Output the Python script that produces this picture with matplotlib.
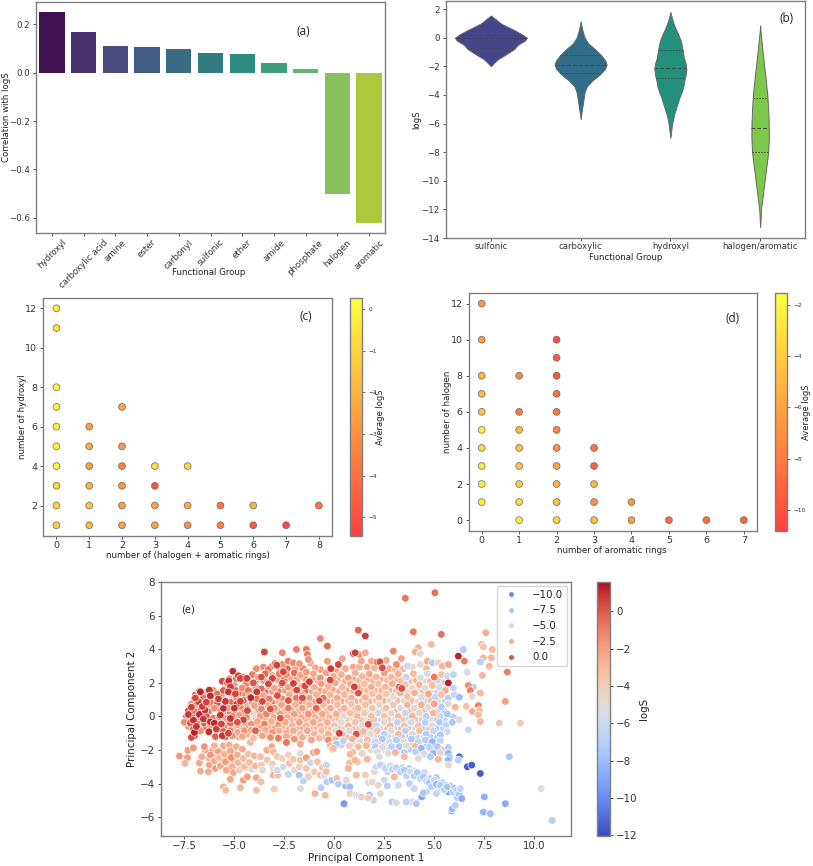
import colorsys

import matplotlib
matplotlib.use('Agg')
import matplotlib.pyplot as plt
import numpy as np
from matplotlib import cm
from matplotlib.colors import Normalize, to_rgb
from matplotlib.lines import Line2D

W, H = 813, 866

# (a)
groups = ['hydroxyl', 'carboxylic acid', 'amine', 'ester', 'carbonyl', 'sulfonic',
          'ether', 'amide', 'phosphate', 'halogen', 'aromatic']
corr = [0.25, 0.17, 0.11, 0.108, 0.098, 0.08, 0.076, 0.038, 0.015, -0.503, -0.62]

# (b) outline of each violin: logS level, half width
violin_names = ['sulfonic', 'carboxylic', 'hydroxyl', 'halogen/aromatic']
violin_y = [
    [1.55, 1.4, 1.2, 1.0, 0.8, 0.5, 0.25, 0.0, -0.2, -0.5, -0.8, -1.2, -1.5, -1.8, -2.0],
    [1.15, 0.8, 0.4, 0.0, -0.4, -0.8, -1.2, -1.6, -1.9, -2.2, -2.6, -3.0, -3.4, -3.8, -4.4, -5.0, -5.7],
    [1.8, 1.4, 1.0, 0.6, 0.2, -0.2, -0.6, -1.0, -1.4, -1.8, -2.2, -2.6, -3.0, -3.4, -3.8, -4.2, -4.6, -5.0, -5.4, -6.0, -7.0],
    [0.85, 0.4, 0.0, -1, -2, -3, -4, -5, -6, -7, -8, -9, -10, -11, -12, -13.25],
]
violin_w = [
    [0.0, 0.03, 0.07, 0.11, 0.17, 0.27, 0.34, 0.40, 0.38, 0.30, 0.26, 0.16, 0.08, 0.03, 0.0],
    [0.0, 0.01, 0.025, 0.045, 0.085, 0.16, 0.225, 0.275, 0.29, 0.27, 0.21, 0.13, 0.07, 0.045, 0.03, 0.015, 0.0],
    [0.0, 0.015, 0.035, 0.06, 0.09, 0.115, 0.13, 0.14, 0.15, 0.17, 0.178, 0.17, 0.155, 0.145, 0.125, 0.10, 0.08, 0.06, 0.04, 0.02, 0.0],
    [0.0, 0.005, 0.012, 0.028, 0.046, 0.064, 0.08, 0.09, 0.096, 0.097, 0.09, 0.07, 0.05, 0.03, 0.01, 0.0],
]
violin_quart = [[0.17, 0.0, -0.75], [-1.2, -1.9, -2.45], [-0.85, -2.15, -2.8], [-4.2, -6.3, -8.0]]
violin_colors = ['#47458a', '#2f6d88', '#23917a', '#7cc84a']

# (c) halogen + aromatic, hydroxyl, average logS
c_x = [0, 0, 0, 0, 0, 0, 0, 0, 0, 0, 1, 1, 1, 1, 1, 1, 2, 2, 2, 2, 2, 2, 3, 3, 3, 3, 4, 4, 4, 5, 5, 6, 6, 7, 8]
c_y = [12, 11, 8, 7, 6, 5, 4, 3, 2, 1, 6, 5, 4, 3, 2, 1, 7, 5, 4, 3, 2, 1, 4, 3, 2, 1, 4, 2, 1, 2, 1, 2, 1, 1, 2]
c_s = [-0.4, -0.7, 0.1, -0.2, -0.2, -0.1, 0.0, -1.0, -1.1, -1.2, -2.6, -2.2, -2.6, -2.1, -1.5, -1.7,
       -2.5, -2.8, -3.5, -2.9, -2.6, -2.6, -0.8, -4.8, -2.5, -2.5, -1.0, -2.2, -3.0, -3.9, -3.5,
       -2.0, -4.6, -5.2, -3.9]

# (d) aromatic rings, halogen, average logS
d_x = [0, 0, 0, 0, 0, 0, 0, 0, 0, 0, 1, 1, 1, 1, 1, 1, 1, 1, 2, 2, 2, 2, 2, 2, 2, 2, 2, 2, 2, 3, 3, 3, 3, 3, 4, 4, 5, 6, 7]
d_y = [12, 10, 8, 7, 6, 5, 4, 3, 2, 1, 8, 6, 5, 4, 3, 2, 1, 0, 10, 9, 8, 7, 6, 5, 4, 3, 2, 1, 0, 4, 3, 2, 1, 0, 1, 0, 0, 0, 0]
d_s = [-6.7, -6.3, -5.2, -5.0, -4.5, -2.2, -3.5, -2.8, -2.5, -2.5, -7.0, -8.2, -5.0, -4.5, -4.4, -4.0,
       -3.5, -2.2, -10.2, -9.5, -9.8, -8.5, -8.0, -7.5, -7.0, -6.0, -5.2, -4.5, -3.5, -8.5, -9.3,
       -5.0, -7.0, -4.7, -6.5, -6.3, -8.7, -8.7, -9.0]

# (e) PCA points as (PC1, PC2, logS)
pca_main = [
    (-5.05, 2.7, 0.3), (-3.9, 2.85, -1.5), (-3.3, 2.8, -0.9), (-2.95, 3.15, -0.3), (-2.6, 3.1, -1.6), (-2.3, 3.3, -0.9),
    (-2.05, 3.2, -1.3), (-1.75, 3.15, -1.8), (-1.2, 3.2, -2.2), (-0.95, 2.9, -2.3), (-0.35, 3.3, -1.9), (-0.2, 2.85, 0.0),
    (0.2, 3.05, -0.3), (0.4, 3.45, -2.3), (0.95, 3.75, 0.2), (1.25, 3.7, -1.5), (1.55, 3.8, -2.4), (1.35, 3.3, -2.2),
    (1.85, 3.3, -2.4), (2.15, 3.25, -0.7), (2.6, 3.35, -2.5), (2.95, 3.9, -1.2), (3.35, 3.45, -2.2), (3.1, 3.1, -1.5),
    (3.65, 3.0, -6.0), (4.3, 3.1, -5.0), (4.65, 3.3, -2.5), (4.9, 3.2, -7.0), (5.2, 3.2, -4.5), (5.4, 3.0, -2.8), (5.7, 3.1, -2.3),

    (-6.75, 1.5, 0.4), (-6.3, 1.55, 0.1), (-5.6, 2.1, 0.4), (-5.35, 2.0, -0.5), (-5.0, 1.85, -1.8), (-4.6, 2.35, 0.0),
    (-4.25, 2.2, -1.5), (-4.1, 2.5, -1.0), (-3.8, 2.35, -2.0), (-3.45, 2.55, -0.4), (-3.1, 2.45, -2.2), (-2.75, 2.55, -0.8),
    (-2.4, 2.5, -1.3), (-2.0, 2.6, -0.5), (-1.7, 2.45, -2.3), (-1.4, 2.65, -1.8), (-1.05, 2.55, -2.4), (-0.7, 2.3, -1.5),
    (-0.4, 2.6, -2.1), (-0.05, 2.4, -2.5), (0.35, 2.5, -2.6), (0.7, 2.3, -2.0), (1.05, 2.6, -2.7), (1.4, 2.4, -3.0),
    (1.75, 2.55, -2.5), (2.1, 2.35, -2.8), (2.5, 2.6, -1.9), (2.85, 2.35, -3.0), (3.2, 2.55, -2.7), (3.6, 2.35, -6.3),
    (3.95, 2.55, -3.2), (4.3, 2.3, -5.2), (4.65, 2.55, -5.5), (5.0, 2.35, -0.9), (5.35, 2.5, -3.5), (5.65, 2.4, -6.0), (5.95, 2.5, -6.5),

    (-7.0, 1.05, -0.1), (-6.55, 1.1, -0.8), (-6.15, 1.2, -1.8), (-5.85, 1.35, -0.7), (-5.55, 1.55, -0.2), (-5.25, 1.4, -0.9),
    (-4.95, 1.55, -0.1), (-4.6, 1.7, -1.3), (-4.3, 1.55, -0.7), (-3.95, 1.8, -1.9), (-3.65, 1.65, -0.4), (-3.3, 1.85, -1.4),
    (-3.0, 1.7, -2.2), (-2.65, 1.9, -1.1), (-2.3, 1.75, -2.0), (-2.0, 2.0, -0.2), (-1.65, 1.8, -2.4), (-1.3, 1.95, -1.6),
    (-1.0, 1.75, -2.6), (-0.65, 1.95, -2.0), (-0.3, 1.8, -2.7), (0.05, 2.0, -2.4), (0.4, 1.75, -2.9), (0.8, 1.95, -2.6),
    (1.15, 1.75, -2.3), (1.5, 1.95, -3.1), (1.85, 1.75, -2.6), (2.2, 1.95, -3.3), (2.55, 1.75, -3.0), (2.9, 1.95, -2.5),
    (3.25, 1.75, 0.0), (3.55, 1.9, -3.4), (3.9, 1.7, -4.5), (4.25, 1.9, -3.0), (4.55, 1.7, -5.0), (4.9, 1.85, -3.2),
    (5.25, 1.75, -5.5), (5.55, 1.55, -2.5), (5.95, 1.7, -6.5),

    (-7.15, 0.75, -1.7), (-6.85, 0.8, 0.1), (-6.5, 0.7, -0.4), (-6.2, 0.85, -0.9), (-5.85, 0.8, -0.1), (-5.55, 1.0, -1.7),
    (-5.2, 0.85, -0.4), (-4.9, 1.1, -1.3), (-4.55, 0.95, -0.1), (-4.25, 1.2, -1.8), (-3.9, 1.05, -0.7), (-3.55, 1.25, -2.1),
    (-3.25, 1.05, -1.0), (-2.9, 1.2, -2.3), (-2.6, 1.05, -1.5), (-2.25, 1.3, -2.4), (-1.9, 1.1, -0.8), (-1.6, 1.3, -2.5),
    (-1.25, 1.1, -2.0), (-0.9, 1.3, -2.6), (-0.55, 1.1, -0.7), (-0.2, 1.3, -2.8), (0.15, 1.1, -2.4), (0.5, 1.3, -3.0),
    (0.85, 1.1, -2.6), (1.2, 1.4, 0.2), (1.55, 1.15, -2.8), (1.9, 1.35, -3.4), (2.25, 1.15, -2.9), (2.6, 1.35, -3.6),
    (2.95, 1.2, -5.0), (3.3, 1.4, -2.7), (3.65, 1.2, -3.4), (4.0, 1.4, -2.6), (4.35, 1.15, -5.0), (4.7, 1.35, -2.3),
    (5.05, 1.15, -6.5), (5.35, 1.3, -3.5), (5.7, 1.1, -7.0), (6.0, 1.3, -6.3),

    (-7.3, 0.35, 0.2), (-7.0, 0.3, -0.8), (-6.65, 0.4, 0.2), (-6.3, 0.3, -0.5), (-6.0, 0.5, -1.5), (-5.65, 0.35, -0.3),
    (-5.3, 0.5, -1.7), (-5.0, 0.4, 0.0), (-4.7, 0.6, -1.4), (-4.35, 0.45, -0.6), (-4.0, 0.65, -2.1), (-3.65, 0.45, -1.2),
    (-3.3, 0.65, -2.4), (-3.0, 0.5, -1.6), (-2.65, 0.7, -2.3), (-2.3, 0.5, -0.9), (-1.95, 0.7, -2.6), (-1.6, 0.5, -2.0),
    (-1.25, 0.7, -2.8), (-0.9, 0.5, -0.3), (-0.55, 0.7, -2.9), (-0.2, 0.5, -2.5), (0.15, 0.7, -3.1), (0.5, 0.5, -2.7),
    (0.85, 0.75, -3.4), (1.2, 0.5, -2.9), (1.55, 0.7, -3.2), (1.9, 0.5, -3.6), (2.25, 0.7, -4.5), (2.6, 0.5, -3.2),
    (2.95, 0.7, -3.8), (3.3, 0.5, -5.0), (3.65, 0.7, -3.0), (4.0, 0.5, -4.7), (4.35, 0.7, -2.6), (4.7, 0.55, -4.8),
    (5.0, 0.75, -2.2), (5.35, 0.55, -7.0), (5.7, 0.75, -5.0), (6.05, 0.55, -2.8),

    (-7.4, 0.0, -1.1), (-7.05, -0.1, 0.3), (-6.75, -0.05, -1.5), (-6.4, 0.0, 0.1), (-6.05, -0.1, -0.8), (-5.75, 0.0, -0.2),
    (-5.4, -0.1, -1.7), (-5.1, 0.0, -0.6), (-4.75, 0.1, -2.0), (-4.4, -0.05, -1.2), (-4.05, 0.15, -5.0), (-3.7, 0.0, -1.9),
    (-3.4, 0.15, -1.1), (-3.05, -0.05, -2.4), (-2.7, 0.15, -1.8), (-2.35, -0.05, -2.5), (-2.0, 0.15, -2.1), (-1.65, -0.05, -2.7),
    (-1.3, 0.15, -1.6), (-0.95, -0.05, -2.8), (-0.6, 0.15, -2.3), (-0.25, -0.05, -3.0), (0.1, 0.15, -2.6), (0.45, 0.0, -4.8),
    (0.8, 0.2, -3.3), (1.15, 0.0, -2.9), (1.5, 0.2, -3.7), (1.85, 0.0, -3.1), (2.2, 0.2, -6.0), (2.5, 0.0, -3.5),
    (2.85, 0.2, -4.8), (3.2, 0.0, -3.2), (3.55, 0.2, -6.2), (3.9, 0.0, -2.8), (4.25, 0.2, -4.7), (4.6, 0.0, -7.0),
    (4.95, 0.2, -3.0), (5.3, 0.0, -6.0), (5.65, 0.15, -7.5), (5.95, -0.05, -6.8),

    (-7.5, -0.35, -1.4), (-7.2, -0.4, 0.0), (-6.85, -0.45, -1.0), (-6.5, -0.4, -0.2), (-6.2, -0.55, -1.7), (-5.85, -0.45, 0.1),
    (-5.5, -0.55, -1.3), (-5.2, -0.4, -0.4), (-4.85, -0.5, -2.0), (-4.5, -0.35, -2.3), (-4.15, -0.45, -1.6), (-3.85, -0.3, -2.3),
    (-3.5, -0.45, -1.0), (-3.15, -0.3, -2.6), (-2.8, -0.5, -1.9), (-2.45, -0.35, -2.3), (-2.1, -0.55, -2.7), (-1.75, -0.35, -2.0),
    (-1.4, -0.55, -2.9), (-1.05, -0.35, -2.3), (-0.7, -0.55, -3.0), (-0.35, -0.35, -2.7), (0.0, -0.55, -3.4), (0.35, -0.35, -4.9),
    (0.7, -0.55, -2.9), (1.05, -0.35, -3.6), (1.4, -0.55, -5.0), (1.75, -0.35, -2.8), (2.1, -0.55, -6.3), (2.5, -0.35, -5.0),
    (2.8, -0.55, -3.2), (3.15, -0.35, -6.6), (3.5, -0.55, -3.6), (3.85, -0.35, -5.5), (4.2, -0.55, -3.3), (4.55, -0.35, -6.8),
    (4.9, -0.55, -5.0), (5.25, -0.35, -7.2), (5.6, -0.5, -6.5), (5.9, -0.35, -7.4),

    (-7.05, -0.75, -0.1), (-6.7, -0.85, -1.5), (-6.3, -0.95, 0.3), (-5.9, -0.8, -2.0), (-5.55, -0.9, 0.0), (-5.2, -0.85, -1.2),
    (-4.85, -0.95, -2.2), (-4.5, -0.85, -1.7), (-4.15, -0.8, -2.4), (-3.8, -0.95, -2.0), (-3.45, -0.8, -2.6), (-3.1, -0.95, -1.8),
    (-2.75, -0.85, -2.7), (-2.4, -1.0, -2.2), (-2.05, -0.85, -2.5), (-1.7, -1.05, -3.0), (-1.35, -0.85, -2.2), (-1.0, -1.05, -2.8),
    (-0.65, -0.85, -3.2), (-0.3, -1.05, -2.6), (0.05, -0.85, -5.0), (0.4, -1.05, -3.2), (0.75, -0.85, -5.5), (1.1, -1.05, 0.2),
    (1.45, -0.9, -3.0), (1.8, -1.05, -5.0), (2.15, -0.85, -3.6), (2.5, -1.05, -6.4), (2.85, -0.85, -5.0), (3.2, -1.05, -3.1),
    (3.55, -0.85, -6.8), (3.9, -1.05, -5.2), (4.25, -0.85, -3.4), (4.6, -1.05, -7.0), (4.95, -0.85, -6.2), (5.3, -1.1, -7.5), (5.65, -0.9, -5.5),

    (-7.0, -1.15, 0.6), (-7.15, -1.25, 0.4), (-5.95, -1.2, -0.2), (-5.45, -1.2, 0.1), (-5.1, -1.15, -1.7), (-4.6, -1.2, -2.4),
    (-4.05, -1.3, -2.3), (-3.6, -1.15, -2.1), (-3.2, -1.25, -1.5), (-2.8, -1.3, -0.9), (-2.4, -1.2, -2.4), (-2.0, -1.35, -1.8),
    (-1.6, -1.25, -2.6), (-1.15, -1.4, -2.2), (-0.75, -1.3, -3.0), (-0.3, -1.4, -1.3), (0.05, -1.35, -3.3), (0.45, -1.45, -6.8),
    (0.9, -1.35, -2.8), (1.3, -1.5, -5.5), (1.65, -1.4, -3.3), (2.05, -1.5, -6.0), (2.4, -1.35, -7.3), (2.75, -1.5, -5.0),
    (3.1, -1.4, -7.0), (3.5, -1.5, -4.8), (3.85, -1.35, -7.4), (4.2, -1.5, -6.3), (4.55, -1.4, -7.0), (4.9, -1.5, -8.2), (5.3, -1.45, -6.6),

    (-2.4, -1.55, -0.6), (-1.7, -1.65, -2.3), (-0.2, -1.75, -3.0), (-0.1, -1.95, -2.0), (0.1, -1.65, -7.5), (0.75, -1.75, -4.0),
    (1.2, -1.8, -3.3), (1.6, -1.75, -2.8), (2.05, -1.8, -7.0), (2.4, -1.85, -5.2), (2.85, -1.8, -6.8), (3.25, -1.8, -7.3),
    (3.6, -1.75, -5.2), (4.05, -1.8, -3.0), (4.35, -1.9, -8.3), (4.75, -1.85, -6.8), (5.15, -1.8, -7.5), (5.7, -1.85, -7.0),

    (0.9, -2.15, -2.7), (1.4, -2.2, -4.3), (2.15, -2.1, -5.0), (2.7, -2.2, -5.2), (3.05, -2.15, -2.9), (3.5, -2.15, -7.0),
    (4.05, -2.1, -6.8), (4.5, -2.25, -5.0), (4.95, -2.2, -8.4), (5.3, -2.15, -4.5), (5.7, -2.2, -8.4), (5.75, -2.45, -8.0),
    (2.25, -2.4, -5.2), (3.5, -2.4, -3.0), (4.2, -2.5, -5.0), (4.8, -2.4, -7.0), (1.65, -2.55, -2.8), (1.15, -2.7, -3.0),
    (0.75, -2.8, -2.9), (5.2, -2.55, -2.8), (5.7, -2.6, -8.2),
]
# second, denser layer that closes the gaps of the cloud; drawn underneath
pca_fill = [
    (-3.55, 2.95, -1.4), (-3.1, 3.0, -0.8), (-2.75, 2.85, -1.7), (-2.35, 2.85, -0.4), (-1.95, 2.9, -1.9), (-1.55, 2.85, -1.2),
    (-0.7, 2.8, -2.0), (0.1, 2.8, -2.1), (0.55, 2.85, -2.5), (0.95, 2.95, -2.3), (1.25, 2.95, -2.6), (1.65, 2.95, -2.2),
    (2.0, 2.9, -2.7), (2.35, 2.95, -1.0), (2.75, 2.85, -2.5), (3.05, 2.8, -2.9), (3.45, 2.85, -3.0), (3.9, 2.95, -4.6), (4.6, 2.85, -3.0),
    (-5.25, 2.25, -1.2), (-4.9, 2.25, -0.7), (-4.4, 1.95, -0.8), (-3.95, 2.1, -0.2), (-3.55, 2.15, -1.7), (-3.2, 2.1, -0.6),
    (-2.85, 2.2, -1.9), (-2.5, 2.2, -0.5), (-2.15, 2.3, -2.1), (-1.85, 2.25, -1.5), (-1.45, 2.25, -2.2), (-1.1, 2.2, -1.8),
    (-0.8, 2.05, -2.6), (-0.3, 2.15, -2.4), (0.15, 2.2, -2.2), (0.55, 2.1, -2.7), (0.95, 2.25, -2.3), (1.25, 2.15, -2.9),
    (1.6, 2.2, -2.5), (1.95, 2.15, -3.0), (2.3, 2.2, -2.4), (2.65, 2.15, -3.2), (3.0, 2.2, -2.6), (3.35, 2.15, -3.0),
    (3.75, 2.1, -3.4), (4.1, 2.15, -2.7), (4.5, 2.1, -5.4), (4.8, 2.1, -3.4), (5.2, 2.1, -6.4), (5.5, 2.05, -4.0),
    (-6.95, 1.3, -0.3), (-6.4, 1.3, -1.2), (-6.05, 1.55, -1.4), (-5.65, 1.3, 0.0), (-5.4, 1.7, -0.6), (-5.05, 1.25, -1.6),
    (-4.75, 1.4, -0.5), (-4.45, 1.3, -1.4), (-4.1, 1.45, -0.9), (-3.75, 1.45, -1.8), (-3.45, 1.45, -0.3), (-3.1, 1.5, -1.7),
    (-2.8, 1.5, -0.6), (-2.45, 1.55, -1.9), (-2.15, 1.5, -1.2), (-1.8, 1.55, -2.2), (-1.45, 1.55, 0.0), (-1.1, 1.5, -2.3),
    (-0.75, 1.55, -1.9), (-0.45, 1.5, -2.5), (-0.1, 1.6, -2.2), (0.25, 1.5, -2.7), (0.6, 1.55, -2.4), (0.95, 1.5, -2.8),
    (1.3, 1.55, -2.5), (1.65, 1.55, -3.0), (2.0, 1.55, -2.7), (2.35, 1.55, -3.2), (2.75, 1.55, -2.9), (3.1, 1.55, -3.3),
    (3.45, 1.6, -3.0), (3.8, 1.5, -3.5), (4.15, 1.55, -5.2), (4.45, 1.5, -3.2), (4.8, 1.55, -4.8), (5.15, 1.45, -6.2),
    (-6.7, 0.95, -1.4), (-6.35, 0.95, 0.3), (-6.0, 1.05, -0.5), (-5.75, 0.65, -1.6), (-5.4, 0.75, 0.1), (-5.1, 0.65, -1.0),
    (-4.75, 0.85, -0.8), (-4.45, 0.7, -2.0), (-4.1, 0.85, -1.1), (-3.75, 0.85, -0.4), (-3.45, 0.85, -1.9), (-3.1, 0.8, -0.9),
    (-2.75, 0.85, -2.1), (-2.45, 0.8, -1.4), (-2.1, 0.9, -2.3), (-1.75, 0.85, -0.7), (-1.45, 0.9, -2.5), (-1.05, 0.85, -1.8),
    (-0.75, 0.9, -2.6), (-0.35, 0.9, -2.3), (0.0, 0.9, -2.8), (0.35, 0.9, -2.5), (0.7, 0.95, -3.0), (1.05, 0.9, -2.7),
    (1.4, 0.95, -3.3), (1.75, 0.9, -2.9), (2.1, 0.95, -3.5), (2.45, 0.95, -3.0), (2.8, 0.95, -4.6), (3.15, 0.95, -3.3),
    (3.5, 0.95, -4.8), (3.85, 0.95, -3.1), (4.2, 0.9, -4.9), (4.55, 0.95, -6.0), (4.85, 0.95, -3.2), (5.2, 0.9, -5.2), (5.55, 0.9, -6.4),
    (-7.2, 0.55, -0.9), (-6.85, 0.55, -1.8), (-6.5, 0.5, 0.0), (-6.2, 0.6, -1.3), (-5.85, 0.55, 0.2), (-5.5, 0.2, -1.0),
    (-5.2, 0.2, -0.2), (-4.85, 0.3, -1.6), (-4.55, 0.25, -0.3), (-4.2, 0.25, -1.8), (-3.85, 0.3, -1.0), (-3.5, 0.3, -2.2),
    (-3.15, 0.3, -0.8), (-2.85, 0.35, -2.0), (-2.5, 0.3, -2.4), (-2.15, 0.35, -1.3), (-1.8, 0.35, -2.5), (-1.45, 0.35, -1.9),
    (-1.1, 0.3, -2.6), (-0.75, 0.35, -2.2), (-0.4, 0.3, -2.7), (-0.05, 0.35, -4.8), (0.3, 0.35, -2.6), (0.65, 0.35, -3.0),
    (1.0, 0.35, -2.8), (1.35, 0.35, -3.4), (1.7, 0.3, -4.8), (2.05, 0.35, -3.0), (2.4, 0.35, -3.6), (2.75, 0.35, -5.2),
    (3.1, 0.3, -3.0), (3.45, 0.35, -4.7), (3.8, 0.3, -3.4), (4.15, 0.35, -6.0), (4.5, 0.3, -3.1), (4.85, 0.35, -6.3), (5.2, 0.3, -3.3), (5.5, 0.3, -7.0),
    (-7.2, -0.15, -1.6), (-6.9, -0.25, 0.2), (-6.55, -0.2, -0.6), (-6.25, -0.25, -1.4), (-5.95, -0.25, -0.1), (-5.6, -0.3, -0.9),
    (-5.3, -0.25, -1.8), (-4.95, -0.2, -0.9), (-4.6, -0.15, -2.1), (-4.25, -0.25, -5.2), (-3.9, -0.1, -1.4), (-3.55, -0.2, -2.3),
    (-3.2, -0.15, -1.5), (-2.9, -0.2, -2.5), (-2.55, -0.2, -1.7), (-2.2, -0.2, -2.2), (-1.85, -0.15, -2.8), (-1.5, -0.2, -2.4),
    (-1.15, -0.15, -2.9), (-0.8, -0.2, -2.5), (-0.45, -0.15, -2.9), (-0.1, -0.2, -3.3), (0.25, -0.15, -2.9), (0.6, -0.15, -3.4),
    (0.95, -0.15, -4.9), (1.3, -0.2, -3.1), (1.65, -0.15, -5.2), (2.0, -0.2, -3.3), (2.35, -0.2, -5.8), (2.7, -0.2, -3.7),
    (3.05, -0.2, -5.1), (3.4, -0.15, -3.4), (3.75, -0.15, -6.6), (4.1, -0.2, -3.8), (4.4, -0.2, -6.5), (4.8, -0.15, -5.1), (5.15, -0.2, -7.1), (5.5, -0.2, -6.6),
    (-7.3, -0.6, -1.8), (-6.95, -0.65, -0.5), (-6.55, -0.65, 0.1), (-6.1, -0.75, -0.7), (-5.75, -0.7, -1.6), (-5.4, -0.75, -0.3),
    (-5.0, -0.7, -1.9), (-4.65, -0.65, -2.3), (-4.3, -0.65, -1.5), (-3.95, -0.6, -2.4), (-3.65, -0.65, -1.9), (-3.3, -0.6, -2.5),
    (-2.95, -0.7, -1.7), (-2.6, -0.7, -2.5), (-2.25, -0.75, -2.1), (-1.9, -0.7, -2.8), (-1.55, -0.7, -2.3), (-1.2, -0.7, -3.0),
    (-0.85, -0.7, -2.6), (-0.5, -0.7, -3.1), (-0.15, -0.7, -2.8), (0.2, -0.7, -3.3), (0.55, -0.7, -4.8), (0.9, -0.7, -3.0),
    (1.25, -0.7, -3.6), (1.6, -0.7, -5.1), (1.95, -0.7, -3.3), (2.3, -0.7, -5.2), (2.65, -0.75, -3.4), (3.0, -0.7, -6.3),
    (3.35, -0.7, -3.7), (3.7, -0.7, -6.8), (4.05, -0.7, -5.0), (4.4, -0.7, -7.0), (4.75, -0.75, -3.4), (5.1, -0.7, -7.2), (5.45, -0.7, -6.4),
    (-5.35, -1.05, -1.0), (-4.8, -1.2, -2.2), (-4.35, -1.05, -2.5), (-3.95, -1.1, -1.9), (-3.35, -1.1, -2.6), (-3.0, -1.1, -2.2),
    (-2.6, -1.1, -2.5), (-2.2, -1.15, -2.3), (-1.85, -1.2, -2.7), (-1.5, -1.05, -2.9), (-1.15, -1.2, -2.4), (-0.8, -1.1, -3.0),
    (-0.45, -1.2, -2.7), (-0.1, -1.15, -3.3), (0.25, -1.2, -5.0), (0.6, -1.2, -3.0), (0.95, -1.15, -3.4), (1.3, -1.2, -5.2),
    (1.65, -1.2, -3.2), (2.0, -1.2, -5.6), (2.35, -1.2, -3.5), (2.7, -1.2, -6.5), (3.05, -1.2, -5.2), (3.4, -1.2, -7.0),
    (3.75, -1.2, -3.6), (4.1, -1.2, -6.8), (4.45, -1.25, -5.2), (4.8, -1.2, -7.2), (5.15, -1.25, -6.5),
    (0.35, -1.7, -6.6), (0.95, -1.6, -5.0), (1.45, -1.6, -3.0), (1.85, -1.6, -5.4), (2.2, -1.65, -3.2), (2.6, -1.65, -6.3),
    (3.05, -1.65, -5.1), (3.45, -1.6, -7.2), (3.8, -1.6, -3.3), (4.25, -1.65, -7.0), (4.65, -1.65, -7.6), (5.0, -1.7, -6.0),
    (1.85, -2.0, -5.0), (2.55, -2.0, -7.0), (3.25, -2.0, -5.2), (3.8, -1.95, -7.2), (4.3, -2.15, -6.3), (4.85, -2.0, -7.2), (5.4, -2.0, -6.6),
    (-6.25, -2.5, -2.5), (-6.1, -2.05, -2.2), (-5.9, -2.4, -2.6), (-5.6, -2.65, -2.2), (-5.65, -2.05, -2.5), (-5.35, -2.45, -2.6),
    (-5.3, -2.9, -2.3), (-5.0, -2.15, -2.8), (-5.0, -2.65, -2.4), (-4.7, -2.55, -2.7), (-4.65, -2.95, -2.6), (-4.4, -3.05, -3.6),
    (2.4, -2.95, -6.8), (2.65, -3.3, -6.6), (3.0, -3.1, -7.0), (3.4, -3.05, -6.4), (3.75, -3.1, -7.0), (3.95, -3.25, -6.4),
    (4.2, -3.55, -7.2), (4.5, -3.35, -6.5), (4.8, -3.7, -7.0), (5.1, -3.65, -7.5), (5.4, -3.95, -7.0), (5.55, -4.1, -6.6),
    (5.8, -4.15, -7.2), (6.0, -4.3, -8.3), (6.25, -4.4, -7.0), (5.25, -4.3, -6.5), (5.7, -4.5, -8.8), (6.15, -4.85, -7.2),
]
pca_lower = [
    (-7.75, -2.36, -1.8), (-7.33, -2.02, -2.0), (-7.05, -1.87, -1.8), (-7.35, -2.46, -1.9), (-7.47, -2.8, -2.7),
    (-6.75, -2.76, -2.2), (-6.7, -3.26, -2.5), (-6.63, -2.4, -2.4), (-6.47, -2.0, -2.2), (-6.5, -1.8, -1.7),
    (-6.2, -2.3, -1.7), (-6.25, -2.9, -2.0), (-6.3, -3.3, -2.5), (-6.0, -1.75, -2.7), (-6.0, -2.65, -2.4), (-5.95, -3.1, -1.9),
    (-5.8, -2.1, -2.0), (-5.75, -2.45, -3.0), (-5.7, -2.95, -2.5), (-5.55, -1.75, -2.4), (-5.5, -2.25, -2.7),
    (-5.45, -2.7, -1.9), (-5.4, -3.2, -2.3), (-5.25, -1.7, -2.6), (-5.2, -2.05, -2.2), (-5.15, -2.45, -1.5),
    (-5.1, -3.0, -2.6), (-5.05, -3.35, -2.3), (-4.9, -1.8, -2.7), (-4.85, -2.3, -2.5), (-4.8, -2.75, -2.8),
    (-4.75, -3.2, -4.0), (-4.6, -1.95, -2.3), (-4.55, -2.5, -3.0), (-4.5, -3.0, -3.2), (-4.3, -2.25, -3.3),
    (-4.25, -2.75, -3.1), (-4.13, -3.15, -5.0), (-4.2, -1.55, -3.0), (-4.05, -1.3, -3.1), (-4.0, -2.35, -2.9),
    (-3.95, -2.95, -2.8), (-3.7, -2.4, -3.2), (-3.65, -2.9, -3.6), (-3.6, -3.2, -5.2), (-3.38, -2.0, -2.4),
    (-3.35, -2.6, -3.5), (-3.13, -1.8, -2.3), (-3.05, -2.1, -3.0), (-3.1, -2.85, -3.8), (-3.05, -3.15, -5.5),
    (-3.05, -3.5, -2.7), (-2.83, -3.5, -3.3), (-2.85, -2.4, -3.6), (-2.85, -3.2, -6.0), (-2.6, -2.5, -4.0),
    (-2.55, -3.0, -5.5), (-2.3, -2.3, -4.2), (-2.3, -3.45, -6.5), (-2.25, -2.8, -3.4), (-2.05, -2.55, -3.7),
    (-2.0, -3.2, -5.0), (-1.75, -3.0, -4.0), (-1.77, -3.5, -7.5), (-1.7, -2.2, -5.0), (-1.7, -2.6, -3.5),
    (-1.4, -2.46, -2.0), (-1.4, -3.1, -3.5), (-1.3, -3.6, -3.8), (-1.2, -2.75, -6.0), (-1.05, -2.15, -2.4),
    (-1.0, -3.3, -3.6), (-0.88, -2.1, -2.0), (-0.85, -2.7, -3.3), (-0.7, -3.5, -3.2), (-0.6, -3.05, -3.6),
    (-0.5, -3.5, -5.2), (-0.4, -2.9, -6.4), (-0.4, -3.3, -3.2), (-1.55, -3.85, -6.5), (-5.2, -3.75, -2.2),
    (-5.55, -4.2, -2.8), (-5.43, -4.4, -3.0), (-4.7, -4.25, -2.9), (-4.55, -3.8, -1.9), (-4.35, -3.6, -1.9),
    (-3.9, -3.65, -2.2), (-3.67, -3.9, -3.1), (-3.9, -4.4, -3.2), (-3.0, -4.33, -3.8), (-1.7, -4.3, -5.0),
    (-0.97, -4.6, -2.8), (-0.46, -4.7, -3.0), (-0.67, -4.25, -7.0), (-0.38, -3.9, -7.0), (-0.13, -3.8, -7.5),
    (-0.05, -1.9, -3.1), (0.12, -3.7, -3.3), (0.2, -4.03, -7.0), (0.5, -5.25, -9.5), (0.57, -4.15, -8.0),
    (0.6, -3.8, -4.5), (0.78, -4.2, -8.0), (0.78, -4.6, -4.0), (1.03, -2.6, -2.8), (0.78, -2.26, -3.0), (0.7, -3.1, -2.8),
    (1.1, -3.5, -3.0), (1.1, -4.7, -5.0), (1.25, -4.75, -7.0),
]
pca_right = [
    (1.55, -3.5, -4.0), (1.7, -3.95, -4.5), (2.0, -3.3, -4.7), (2.1, -3.0, -6.0), (1.9, -3.9, -5.0), (2.2, -4.1, -4.7),
    (2.3, -2.9, -6.6), (2.55, -3.1, -6.4), (2.5, -3.8, -6.2), (2.65, -4.15, -7.0), (2.8, -2.95, -5.8), (2.9, -3.15, -6.6),
    (3.0, -3.6, -3.0), (3.1, -3.05, -6.4), (3.3, -3.3, -6.8), (3.2, -4.1, -6.0), (3.5, -3.2, -7.3), (3.6, -3.55, -6.5),
    (3.75, -4.0, -6.7), (3.8, -3.3, -5.5), (4.0, -3.55, -7.0), (4.0, -4.3, -6.2), (4.15, -3.35, -7.4), (4.3, -3.7, -6.3),
    (4.45, -3.6, -7.5), (4.6, -3.85, -6.0), (4.75, -3.95, -7.5), (4.85, -4.2, -7.0), (5.0, -3.8, -6.2), (5.1, -4.05, -8.0),
    (5.3, -4.1, -7.2), (5.5, -4.35, -7.0), (5.65, -4.2, -7.5), (5.95, -4.5, -7.4), (6.1, -4.4, -6.8), (6.25, -4.65, -7.6),
    (6.37, -4.9, -8.8), (6.3, -4.3, -6.5), (5.1, -4.6, -6.3), (4.6, -4.5, -7.0), (4.37, -4.8, -9.0), (4.45, -4.55, -7.5),
    (3.9, -5.1, -5.2), (3.6, -5.1, -6.7), (4.1, -5.2, -7.4), (2.87, -5.1, -7.0), (3.1, -5.15, -5.0), (1.95, -5.0, -6.3),
    (1.75, -4.7, -8.0), (1.35, -4.8, -4.0), (1.7, -4.85, -4.0), (2.3, -4.6, -4.8), (0.48, -5.2, -9.5), (5.87, -5.65, -8.0),
]
pca_outliers = [
    (-3.5, 3.85, 0.5), (-2.6, 3.8, -1.2), (-1.9, 4.0, -1.0), (-1.4, 4.0, -0.8), (-1.35, 3.7, -1.0), (-1.3, 3.4, -1.5),
    (-0.7, 4.65, -1.3), (-0.35, 4.2, -0.3), (1.2, 5.15, -0.3), (1.55, 4.8, 0.6), (3.55, 7.05, -0.8), (5.03, 7.38, -0.6),
    (3.95, 5.05, -0.8), (5.35, 4.9, -0.6), (7.57, 5.0, -2.5), (7.37, 4.3, -3.0), (4.85, 4.3, -3.0), (4.2, 4.1, -2.8),
    (4.05, 3.85, -2.6), (4.3, 3.75, -4.8), (6.2, 3.6, 1.2), (6.45, 4.0, -7.0), (7.45, 4.15, -3.5), (7.9, 4.0, -3.0),
    (7.45, 3.5, -3.0), (7.85, 3.5, -3.0), (6.5, 3.3, -1.0), (7.3, 3.25, -7.0), (7.75, 3.0, -3.0), (8.65, 2.65, -1.0),
    (7.4, 2.45, -3.0), (6.65, 2.65, -5.5), (5.7, 2.0, 1.3), (6.95, 1.75, -7.0), (6.7, 1.85, -1.5), (6.8, 1.55, -1.0),
    (7.3, 1.4, -3.0), (6.9, 1.2, -5.0), (6.25, 1.15, -8.0), (7.2, 0.65, -1.2), (8.55, 0.9, -2.0), (6.6, 0.6, -3.5),
    (7.25, 0.35, -3.0), (6.9, 0.3, -2.5), (7.2, 0.1, -3.0), (6.25, -0.2, -5.0), (7.3, -0.3, -3.0), (8.25, -0.4, -3.7),
    (9.3, -0.4, -3.7), (6.7, -0.8, -6.5), (6.25, -2.4, -11.0), (6.2, -2.6, -7.0), (6.65, -3.0, -11.5), (6.87, -2.9, -11.5),
    (7.3, -3.4, -11.5), (8.75, -2.4, -7.5), (10.35, -4.3, -5.0), (10.9, -6.2, -7.0), (7.5, -4.8, -8.5), (8.55, -5.2, -8.8),
    (7.45, -5.7, -8.3), (7.8, -5.8, -8.0), (5.9, -5.5, -8.2), (6.05, -5.3, -7.0), (5.7, -2.9, -4.5),
]
# the darkest reds, they sit on top of the cloud in the picture
pca_dark = [
    (-5.08, 2.7, 1.0), (-4.8, 2.43, 0.7), (-5.28, 2.13, 1.0), (-5.2, 1.77, 0.8), (-6.7, 1.47, 1.2), (-6.25, 1.57, 1.0),
    (-6.2, 1.23, 1.1), (-6.8, 0.88, 0.7), (-5.3, 1.47, 0.9), (-4.18, 1.12, 1.2), (-4.88, 0.74, 0.8), (-5.55, 0.48, 1.0),
    (-5.2, -0.12, 0.9), (-7.0, -0.95, 1.3), (-6.27, -0.91, 1.0), (-7.3, 0.12, 0.8), (-6.75, 0.12, 1.2), (-6.47, 0.38, 0.9),
    (-6.2, -0.32, 1.0), (-7.05, -0.22, 1.0), (-5.7, 0.08, 0.8), (-4.7, 2.27, 0.5), (-4.38, 2.27, 0.7), (-3.88, 1.47, 0.9),
    (-3.1, 2.27, 0.6), (-2.88, 3.06, 0.6), (-2.55, 2.67, 0.5), (-2.05, 1.97, 0.6), (-1.88, 1.57, 0.5), (1.04, 3.8, 0.7),
    (0.2, 3.1, 0.5), (-0.18, 2.85, 0.7), (-1.47, 1.83, 0.5), (-1.25, 2.07, 0.7), (-0.2, 2.17, 0.4), (1.0, 1.77, 0.6),
    (-0.75, 0.94, 0.5), (2.28, 3.26, 0.4), (2.4, 2.9, 0.3), (3.37, 1.67, 0.2), (0.25, -1.0, 0.6), (1.7, -0.47, 0.2),
    (-6.9, -0.6, 0.9), (-6.6, 0.6, 0.7), (-6.0, -0.4, 1.1), (-5.6, -1.15, 0.9), (-5.3, -1.0, 0.6), (-5.45, 0.9, 0.8),
    (-5.0, 0.5, 0.9), (-4.7, 0.9, 0.6), (-4.55, -0.2, 0.5), (-5.8, 1.05, 0.6), (-6.4, 0.85, 0.6), (-5.9, -0.75, 0.7),
    (-3.6, 0.9, 0.4), (-3.3, 1.95, 0.5), (-2.85, 1.25, 0.3), (-3.65, 2.35, 0.3), (-4.35, 0.35, 0.4), (-2.6, 2.0, 0.2),
    (-6.55, -0.15, 0.8), (-7.15, 0.55, 0.6), (-5.65, -0.45, 0.5), (-6.95, 1.1, 0.4), (-4.95, 1.35, 0.5), (-4.05, 2.0, 0.2),
    (-3.2, 0.45, 0.1), (-1.6, 1.1, 0.2), (-2.3, 0.95, 0.1), (-2.7, -0.1, 0.0), (-3.95, -0.85, -0.1), (-4.85, -0.35, 0.2),
]
legend_levels = [-10.0, -7.5, -5.0, -2.5, 0.0]


def px_axes(left, top, right, bottom):
    return fig.add_axes([left / W, 1 - bottom / H, (right - left) / W, (bottom - top) / H])


def desaturate(color, prop=0.75):
    h, l, s = colorsys.rgb_to_hls(*to_rgb(color))
    return colorsys.hls_to_rgb(h, l, s * prop)


def style_spines(ax):
    for spine in ax.spines.values():
        spine.set_color('#7f7f7f')
        spine.set_linewidth(1.0)


def place_labels(ax, xlabel, xc, yc, ylabel, xl, yl, size=6.2):
    # label centres in picture pixels; half the text height is about 0.55 size
    ax.set_xlabel(xlabel, fontsize=size)
    ax.set_ylabel(ylabel, fontsize=size)
    off = size * 0.55 * 100 / 72
    ax.xaxis.set_label_coords(xc / W, 1 - (yc - off) / H, transform=fig.transFigure)
    ax.yaxis.set_label_coords((xl + off) / W, 1 - yl / H, transform=fig.transFigure)


plt.rcParams['font.size'] = 6.2
plt.rcParams['text.color'] = '#222222'
plt.rcParams['axes.labelcolor'] = '#222222'
plt.rcParams['xtick.color'] = '#333333'
plt.rcParams['ytick.color'] = '#333333'
plt.rcParams['xtick.major.size'] = 2.0
plt.rcParams['ytick.major.size'] = 2.0
plt.rcParams['xtick.major.width'] = 0.6
plt.rcParams['ytick.major.width'] = 0.6
plt.rcParams['xtick.major.pad'] = 1.5
plt.rcParams['ytick.major.pad'] = 2.5

fig = plt.figure(figsize=(W / 100, H / 100), dpi=100)

# panel a
ax = px_axes(36, 2.3, 385, 233)
bar_colors = [desaturate(cm.viridis(v)) for v in np.linspace(0.02, 0.9, len(groups))]
ax.bar(range(len(groups)), corr, width=0.8, color=bar_colors)
ax.set_xlim(-0.5, 10.5)
ax.set_ylim(-0.663, 0.291)
ax.set_xticks(range(len(groups)))
ax.set_xticklabels(groups, rotation=45)
ax.set_yticks([-0.6, -0.4, -0.2, 0.0, 0.2])
place_labels(ax, 'Functional Group', 209, 273, 'Correlation with logS', 6, 117)
ax.text(7.7, 0.17, '(a)', fontsize=8.5, family='Open Sans', ha='left', va='center')
style_spines(ax)

# panel b
ax = px_axes(446, 1, 805, 238)
for i, name in enumerate(violin_names):
    ys = np.array(violin_y[i])
    hw = np.array(violin_w[i])
    ax.fill_betweenx(ys, i - hw, i + hw, color=violin_colors[i], edgecolor='#666666', linewidth=0.7)
    for j, q in enumerate(violin_quart[i]):
        half = np.interp(-q, -ys, hw)
        ax.plot([i - half, i + half], [q, q], color='#444444', lw=0.7,
                ls=(0, (4, 2)) if j == 1 else (0, (1.5, 1.5)))
ax.set_xlim(-0.5, 3.5)
ax.set_ylim(-14, 2.56)
ax.set_xticks(range(4))
ax.set_xticklabels(violin_names)
ax.set_yticks(range(-14, 3, 2))
ax.tick_params(axis='x', pad=1)
place_labels(ax, 'Functional Group', 626, 257.5, 'logS', 417, 120)
ax.text(3.22, 1.35, '(b)', fontsize=8.5, family='Open Sans', ha='left', va='center')
style_spines(ax)

# panel c
ax = px_axes(43.3, 297.7, 332, 535.7)
sc = ax.scatter(c_x, c_y, c=c_s, cmap='autumn', vmin=-5.44, vmax=0.27, s=24, alpha=0.75,
                edgecolors='#555555', linewidths=0.6)
ax.set_xlim(-0.4, 8.4)
ax.set_ylim(0.47, 12.54)
ax.set_xticks(range(9))
ax.set_yticks(range(2, 13, 2))
ax.tick_params(labelsize=6.8)
place_labels(ax, 'number of (halogen + aromatic rings)', 187.5, 555.5, 'number of hydroxyl', 22, 417)
ax.text(7.4, 11.6, '(c)', fontsize=8.5, family='Open Sans', ha='left', va='center')
style_spines(ax)
cax = px_axes(350, 297.7, 362.3, 535.7)
cb = fig.colorbar(sc, cax=cax)
cb.set_label('Average logS', fontsize=6)
cb.ax.yaxis.set_label_coords(376 / W, 1 - 417 / H, transform=fig.transFigure)
cb.set_ticks([-5, -4, -3, -2, -1, 0])
cb.ax.tick_params(labelsize=4.2, length=2, width=0.5)
style_spines(cax)

# panel d
ax = px_axes(469, 293.3, 757.3, 531.3)
sc = ax.scatter(d_x, d_y, c=d_s, cmap='autumn', vmin=-10.82, vmax=-1.56, s=24, alpha=0.75,
                edgecolors='#555555', linewidths=0.6)
ax.set_xlim(-0.34, 7.36)
ax.set_ylim(-0.62, 12.57)
ax.set_xticks(range(8))
ax.set_yticks(range(0, 13, 2))
ax.tick_params(labelsize=6.8)
place_labels(ax, 'number of aromatic rings', 612, 551, 'number of halogen', 447, 412)
ax.text(6.5, 11.2, '(d)', fontsize=8.5, family='Open Sans', ha='left', va='center')
style_spines(ax)
cax = px_axes(775, 293.3, 787, 531.3)
cb = fig.colorbar(sc, cax=cax)
cb.set_label('Average logS', fontsize=6)
cb.ax.yaxis.set_label_coords(802 / W, 1 - 412 / H, transform=fig.transFigure)
cb.set_ticks([-10, -8, -6, -4, -2])
cb.ax.tick_params(labelsize=4.2, length=2, width=0.5)
style_spines(cax)

# panel e
ax = px_axes(161, 581.7, 571.3, 836)
pts = np.array(pca_fill + pca_main + pca_lower + pca_right + pca_outliers + pca_dark)
norm = Normalize(vmin=-12.03, vmax=1.58)
sc = ax.scatter(pts[:, 0], pts[:, 1], c=pts[:, 2], cmap='coolwarm', norm=norm, s=30,
                edgecolors='white', linewidths=0.5)
ax.set_xlim(-8.67, 11.85)
ax.set_ylim(-7.13, 8.04)
ax.set_xticks([-7.5, -5.0, -2.5, 0.0, 2.5, 5.0, 7.5, 10.0])
ax.set_yticks(range(-6, 9, 2))
ax.tick_params(labelsize=7.4)
place_labels(ax, 'Principal Component 1', 366, 859, 'Principal Component 2', 131, 709, size=7.4)
ax.text(-7.65, 6.4, '(e)', fontsize=7.2, ha='left', va='center')
style_spines(ax)
handles = [Line2D([], [], ls='', marker='o', ms=4, mec='white', mew=0.4,
                  color=cm.coolwarm(norm(v)), label=f'{v}'.replace('-', '\u2212')) for v in legend_levels]
ax.legend(handles=handles, loc='upper right', fontsize=7.4, labelspacing=0.55, handletextpad=1.0,
          bbox_to_anchor=(0.99, 0.985), borderaxespad=0)
cax = px_axes(596.7, 581.7, 610, 836)
cb = fig.colorbar(sc, cax=cax)
cb.set_label('logS', fontsize=7.4)
cb.ax.yaxis.set_label_coords(639 / W, 1 - 709 / H, transform=fig.transFigure)
cb.set_ticks(range(-12, 1, 2))
cb.ax.tick_params(labelsize=7.4)
style_spines(cax)

fig.savefig('out.png', dpi=100)
